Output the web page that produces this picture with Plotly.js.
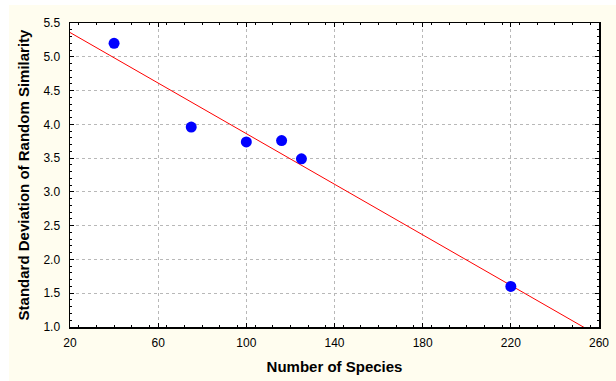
<!DOCTYPE html>
<html>
<head>
<meta charset="utf-8">
<script src="https://cdn.plot.ly/plotly-3.0.1.min.js"></script>
<style>
html,body{margin:0;padding:0;background:#ffffff;}
#chart{position:absolute;left:9px;top:5px;width:607px;height:376px;}
</style>
</head>
<body>
<div id="chart"></div>
<script>
// Data
const species = [40, 75, 100, 116, 125, 220];
const sdSimilarity = [5.20, 3.96, 3.74, 3.76, 3.49, 1.60];
const xTicks = [20, 60, 100, 140, 180, 220, 260];
const yTicks = [1.0, 1.5, 2.0, 2.5, 3.0, 3.5, 4.0, 4.5, 5.0, 5.5];

// Least-squares fit computed from the data
const n = species.length;
const mx = species.reduce((a, b) => a + b, 0) / n;
const my = sdSimilarity.reduce((a, b) => a + b, 0) / n;
let sxy = 0, sxx = 0;
for (let i = 0; i < n; i++) {
  sxy += (species[i] - mx) * (sdSimilarity[i] - my);
  sxx += (species[i] - mx) ** 2;
}
const slope = sxy / sxx;
const intercept = my - slope * mx;
const fitX = [xTicks[0], xTicks[xTicks.length - 1]];
const fitY = fitX.map(x => intercept + slope * x);

const FONT = 'Liberation Sans, Arial, sans-serif';
const axisCommon = {
  showline: true, linecolor: '#000', linewidth: 1.5, mirror: 'allticks',
  ticks: 'inside', ticklen: 4, tickcolor: '#000', tickwidth: 1,
  showgrid: true, gridcolor: '#b8b8b8', griddash: 'dot', gridwidth: 1,
  zeroline: false,
  tickfont: {family: FONT, size: 12, color: '#000'}
};

const traces = [
  {x: fitX, y: fitY, mode: 'lines', line: {color: '#ff0000', width: 1}, hoverinfo: 'skip'},
  {x: species, y: sdSimilarity, mode: 'markers', marker: {color: '#0000ff', size: 11}}
];

const layout = {
  width: 607, height: 376,
  paper_bgcolor: '#fffdef', plot_bgcolor: '#ffffff',
  margin: {l: 61, r: 17, t: 18, b: 54},
  showlegend: false,
  xaxis: Object.assign({}, axisCommon, {
    range: [20, 260], tickvals: xTicks, ticktext: xTicks.map(String),
    ticklabelstandoff: 4,
    minor: {dtick: 8, ticks: 'inside', ticklen: 2, tickcolor: '#000', showgrid: false},
    title: {text: '<b>Number of Species</b>', font: {family: FONT, size: 15, color: '#000'}, standoff: 12}
  }),
  yaxis: Object.assign({}, axisCommon, {
    range: [1.0, 5.5], tickvals: yTicks, ticktext: yTicks.map(v => v.toFixed(1)),
    ticklabelstandoff: 6,
    minor: {dtick: 0.1, ticks: 'inside', ticklen: 2, tickcolor: '#000', showgrid: false},
    title: {text: '<b>Standard Deviation of Random Similarity</b>', font: {family: FONT, size: 15, color: '#000'}, standoff: 10}
  })
};

Plotly.newPlot('chart', traces, layout, {staticPlot: true, displayModeBar: false});
</script>
</body>
</html>
